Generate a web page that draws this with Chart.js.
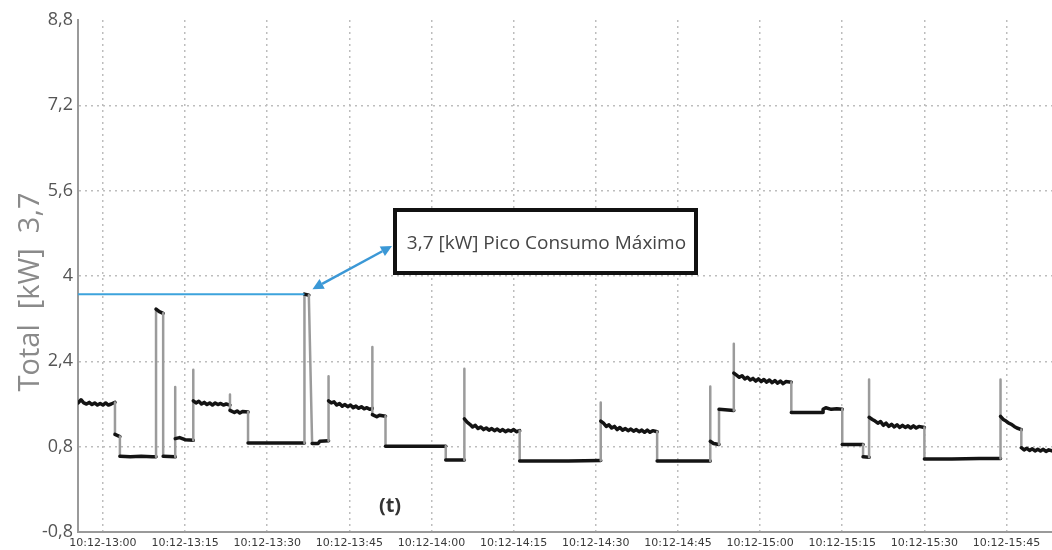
<!DOCTYPE html>
<html>
<head>
<meta charset="utf-8">
<script src="https://cdn.jsdelivr.net/npm/chart.js@4.4.1/dist/chart.umd.min.js"></script>
<style>
  html, body { margin: 0; padding: 0; background: #ffffff; }
  #wrap { width: 1052px; height: 550px; position: relative; }
</style>
</head>
<body>
<div id="wrap"><canvas id="c" width="1052" height="550"></canvas></div>
<script>
// ---- data (minutes after 13:00, kW) ----
const tickMinutes = [0, 15, 30, 45, 60, 75, 90, 105, 120, 135, 150, 165];
const tickLabels = ['10:12-13:00', '10:12-13:15', '10:12-13:30', '10:12-13:45', '10:12-14:00', '10:12-14:15',
                    '10:12-14:30', '10:12-14:45', '10:12-15:00', '10:12-15:15', '10:12-15:30', '10:12-15:45'];
const yTicks = [-0.8, 0.8, 2.4, 4, 5.6, 7.2, 8.8];
const yTickLabels = ['-0,8', '0,8', '2,4', '4', '5,6', '7,2', '8,8'];
const yTitle = 'Total  [kW]  3,7';
const xNote = '(t)';
const peakNote = '3,7 [kW] Pico Consumo Máximo';

const readings = [
  [-4.55, 1.62], [-4.0, 1.68], [-3.5, 1.62], [-3.0, 1.60], [-2.5, 1.63], [-2.0, 1.59], [-1.5, 1.62],
  [-1.0, 1.58], [-0.5, 1.61], [0.0, 1.58], [0.5, 1.62], [1.0, 1.58], [1.5, 1.60], [2.2, 1.63],
  [2.2, 1.03], [3.1, 0.99], [3.1, 0.62], [5.0, 0.61], [7.0, 0.62], [9.0, 0.61], [9.7, 0.61],
  [9.7, 3.38], [10.3, 3.33], [11.0, 3.30], [11.0, 0.62], [13.2, 0.61],
  [13.2, 1.92], [13.2, 0.95], [14.0, 0.97], [15.0, 0.93], [16.5, 0.92],
  [16.5, 2.24], [16.5, 1.66], [17.0, 1.62], [17.5, 1.65], [18.0, 1.60], [18.5, 1.63], [19.0, 1.59],
  [19.5, 1.62], [20.0, 1.58], [20.5, 1.62], [21.0, 1.59], [21.5, 1.61], [22.0, 1.58], [22.5, 1.60], [23.2, 1.58],
  [23.2, 1.78], [23.2, 1.48], [24.0, 1.44], [24.5, 1.47], [25.0, 1.43], [25.5, 1.46], [26.5, 1.45],
  [26.5, 0.87], [30.0, 0.87], [34.0, 0.87], [36.8, 0.87],
  [36.8, 3.66], [37.6, 3.64], [38.2, 0.86], [39.3, 0.86], [39.6, 0.90], [41.2, 0.91],
  [41.2, 2.12], [41.2, 1.66], [41.7, 1.62], [42.2, 1.64], [42.7, 1.58], [43.2, 1.61], [43.7, 1.56],
  [44.2, 1.59], [44.7, 1.55], [45.2, 1.58], [45.7, 1.53], [46.2, 1.56], [46.7, 1.52], [47.2, 1.55],
  [47.7, 1.51], [48.2, 1.53], [48.7, 1.50], [49.2, 1.52],
  [49.2, 2.67], [49.2, 1.40], [50.0, 1.36], [50.5, 1.39], [51.6, 1.37],
  [51.6, 0.81], [55.0, 0.81], [60.0, 0.81], [62.6, 0.81], [62.6, 0.55], [66.0, 0.55],
  [66.0, 2.26], [66.0, 1.32], [66.5, 1.26], [67.0, 1.22], [67.5, 1.17], [68.0, 1.20], [68.5, 1.14],
  [69.0, 1.17], [69.5, 1.12], [70.0, 1.15], [70.5, 1.11], [71.0, 1.14], [71.5, 1.10], [72.0, 1.13],
  [72.5, 1.09], [73.0, 1.12], [73.5, 1.08], [74.0, 1.11], [74.5, 1.09], [75.0, 1.12], [75.5, 1.08], [76.1, 1.10],
  [76.1, 0.53], [80.0, 0.53], [85.0, 0.53], [90.9, 0.54],
  [90.9, 1.63], [90.9, 1.28], [91.4, 1.24], [91.9, 1.18], [92.4, 1.21], [92.9, 1.15], [93.4, 1.18],
  [93.9, 1.12], [94.4, 1.16], [94.9, 1.11], [95.4, 1.14], [95.9, 1.10], [96.4, 1.13], [96.9, 1.09],
  [97.4, 1.12], [97.9, 1.08], [98.4, 1.11], [98.9, 1.07], [99.4, 1.11], [99.9, 1.07], [100.4, 1.10], [101.2, 1.08],
  [101.2, 0.53], [105.0, 0.53], [110.9, 0.53],
  [110.9, 1.93], [110.9, 0.90], [111.5, 0.86], [112.5, 0.84], [112.5, 1.50], [115.2, 1.48],
  [115.2, 2.73], [115.2, 2.18], [115.7, 2.14], [116.2, 2.10], [116.7, 2.13], [117.2, 2.07], [117.7, 2.10],
  [118.2, 2.05], [118.7, 2.08], [119.2, 2.03], [119.7, 2.07], [120.2, 2.02], [120.7, 2.06], [121.2, 2.01],
  [121.7, 2.05], [122.2, 2.00], [122.7, 2.04], [123.2, 1.99], [123.7, 2.03], [124.2, 1.98], [124.7, 2.02], [125.7, 2.01],
  [125.7, 1.44], [131.5, 1.44], [131.5, 1.50], [132.0, 1.53], [133.0, 1.50], [134.0, 1.51], [135.0, 1.50],
  [135.0, 0.84], [138.8, 0.84], [138.8, 0.61], [139.9, 0.60],
  [139.9, 2.06], [139.9, 1.35], [140.5, 1.31], [141.0, 1.28], [141.5, 1.24], [142.0, 1.27], [142.5, 1.20],
  [143.0, 1.24], [143.5, 1.18], [144.0, 1.22], [144.5, 1.17], [145.0, 1.21], [145.5, 1.16], [146.0, 1.20],
  [146.5, 1.16], [147.0, 1.19], [147.5, 1.15], [148.0, 1.19], [148.5, 1.15], [149.0, 1.18], [150.0, 1.16],
  [150.0, 0.57], [155.0, 0.57], [160.0, 0.58], [163.9, 0.58],
  [163.9, 2.06], [163.9, 1.37], [164.4, 1.31], [164.9, 1.28], [165.4, 1.24], [165.9, 1.22], [166.4, 1.18],
  [166.9, 1.15], [167.7, 1.12],
  [167.7, 0.78], [168.2, 0.74], [168.7, 0.77], [169.2, 0.73], [169.7, 0.76], [170.2, 0.72], [170.7, 0.75],
  [171.2, 0.72], [171.7, 0.75], [172.2, 0.71], [172.7, 0.74], [173.3, 0.72]
];

const xMin = -4.55, xMax = 173.3, yMin = -0.8, yMax = 8.8;

function steep(ctx) {
  const dx = Math.abs(ctx.p1.x - ctx.p0.x);
  const dy = Math.abs(ctx.p1.y - ctx.p0.y);
  return dy > 4 && dy > 3 * dx;
}

const notes = {
  id: 'notes',
  afterDatasetsDraw(chart) {
    const c = chart.ctx, a = chart.chartArea;
    const xs = chart.scales.x, ys = chart.scales.y;
    // peak reading
    let pk = readings[0];
    readings.forEach(r => { if (r[1] > pk[1]) pk = r; });
    const px = xs.getPixelForValue(pk[0]), py = ys.getPixelForValue(pk[1]);
    c.save();
    // blue reference line
    c.strokeStyle = '#3da3dc';
    c.lineWidth = 2;
    c.beginPath();
    c.moveTo(a.left, py);
    c.lineTo(px, py);
    c.stroke();
    // box
    const bx = 393, by = 208, bw = 305, bh = 67;
    c.fillStyle = '#ffffff';
    c.fillRect(bx, by, bw, bh);
    c.strokeStyle = '#111111';
    c.lineWidth = 4;
    c.strokeRect(bx + 2, by + 2, bw - 4, bh - 4);
    c.fillStyle = '#454545';
    c.font = '19px "Open Sans", sans-serif';
    c.textAlign = 'center';
    c.textBaseline = 'middle';
    c.fillText(peakNote, bx + bw / 2 + 1, by + bh / 2 + 2);
    // double arrow
    const x1 = px + 8, y1 = py - 5, x2 = bx - 1, y2 = 246;
    c.strokeStyle = '#3b98d6';
    c.fillStyle = '#3b98d6';
    c.lineWidth = 2.5;
    const ang = Math.atan2(y2 - y1, x2 - x1);
    const hl = 11, hw = 5.5;
    c.beginPath();
    c.moveTo(x1 + Math.cos(ang) * hl, y1 + Math.sin(ang) * hl);
    c.lineTo(x2 - Math.cos(ang) * hl, y2 - Math.sin(ang) * hl);
    c.stroke();
    [[x1, y1, ang], [x2, y2, ang + Math.PI]].forEach(([tx, ty, an]) => {
      c.beginPath();
      c.moveTo(tx, ty);
      c.lineTo(tx + Math.cos(an) * hl - Math.sin(an) * hw, ty + Math.sin(an) * hl + Math.cos(an) * hw);
      c.lineTo(tx + Math.cos(an) * hl + Math.sin(an) * hw, ty + Math.sin(an) * hl - Math.cos(an) * hw);
      c.closePath();
      c.fill();
    });
    // (t)
    c.fillStyle = '#333333';
    c.font = 'bold 20px "Open Sans", sans-serif';
    c.textAlign = 'center';
    c.textBaseline = 'middle';
    c.fillText(xNote, 390, 506);
    // y title
    c.translate(31, 292);
    c.rotate(-Math.PI / 2);
    c.fillStyle = '#8a8a8a';
    c.font = '29px "Open Sans", sans-serif';
    c.fillText(yTitle, 0, 0);
    c.restore();
  }
};

new Chart(document.getElementById('c'), {
  type: 'line',
  data: {
    datasets: [{
      label: 'Total [kW]',
      data: readings.map(r => ({ x: r[0], y: r[1] })),
      borderColor: '#141414',
      borderWidth: 3.5,
      borderJoinStyle: 'round',
      borderCapStyle: 'round',
      pointRadius: 0,
      tension: 0,
      segment: {
        borderColor: ctx => steep(ctx) ? '#9b9b9b' : '#141414',
        borderWidth: ctx => steep(ctx) ? 2.5 : 3.5
      }
    }]
  },
  options: {
    responsive: false,
    devicePixelRatio: 1,
    animation: false,
    layout: { padding: { top: 20, right: 0, left: 0, bottom: 0 } },
    plugins: { legend: { display: false }, tooltip: { enabled: false } },
    scales: {
      x: {
        type: 'linear',
        min: xMin, max: xMax,
        afterBuildTicks: s => { s.ticks = tickMinutes.map(v => ({ value: v })); },
        afterFit: s => { s.height = 18; },
        ticks: {
          autoSkip: false, maxRotation: 0, padding: 5,
          color: '#3a3a3a',
          font: { family: '"DejaVu Sans", sans-serif', size: 11 },
          callback: (v, i) => tickLabels[i]
        },
        grid: { color: '#bdbdbd', lineWidth: 1.5, drawTicks: false },
        border: { display: true, color: '#9a9a9a', width: 2, dash: [2, 4] }
      },
      y: {
        min: yMin, max: yMax,
        afterBuildTicks: s => { s.ticks = yTicks.map(v => ({ value: v })); },
        afterFit: s => { s.width = 78; },
        ticks: {
          padding: 5,
          color: '#555555',
          font: { family: '"Open Sans", sans-serif', size: 18 },
          callback: (v, i) => yTickLabels[i]
        },
        grid: {
          color: ctx => (ctx.tick && (ctx.tick.value === yMin || ctx.tick.value === yMax)) ? 'rgba(0,0,0,0)' : '#bdbdbd',
          lineWidth: 1.5, drawTicks: false
        },
        border: { display: true, color: '#9a9a9a', width: 2, dash: [2, 4] }
      }
    }
  },
  plugins: [notes]
});
</script>
</body>
</html>
